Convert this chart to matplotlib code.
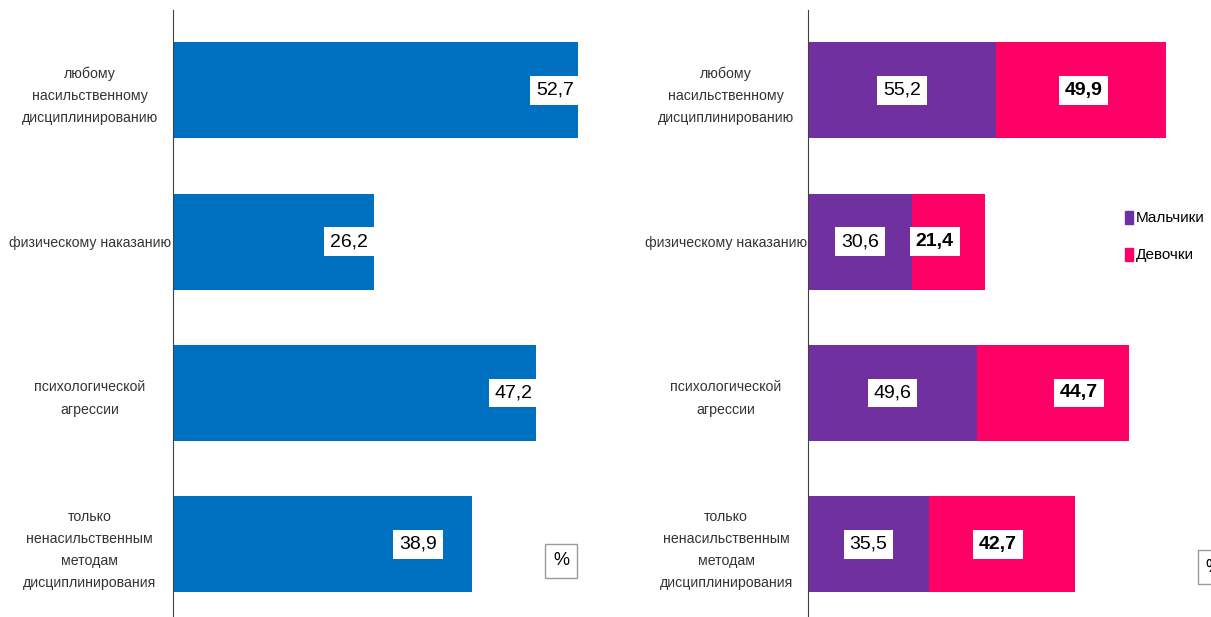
import matplotlib.pyplot as plt
from matplotlib.patches import Patch

categories = [
    "любому\nнасильственному\nдисциплинированию",
    "физическому наказанию",
    "психологической\nагрессии",
    "только\nненасильственным\nметодам\nдисциплинирования",
]
total = [52.7, 26.2, 47.2, 38.9]
boys = [55.2, 30.6, 49.6, 35.5]
girls = [49.9, 21.4, 44.7, 42.7]
series_names = ["Мальчики", "Девочки"]

# label nudges (data units), as placed in the original
total_label_shift = [3.0, 3.3, 2.9, 7.0]
girls_label_shift = [0.6, -4.1, 7.6, -1.2]

plt.rcParams["font.family"] = ["Liberation Sans Narrow", "Liberation Sans", "DejaVu Sans"]

BLUE = "#0070C0"
PURPLE = "#7030A0"
PINK = "#FF0066"
TXT = "#333333"

fig = plt.figure(figsize=(12.11, 6.17), dpi=100)
W, H = 1211, 617
ax1 = fig.add_axes([173 / W, 0, 461 / W, 607 / H])
ax2 = fig.add_axes([808 / W, 0, 375 / W, 607 / H])

y = list(range(len(categories)))
box = dict(boxstyle="square,pad=0.3", fc="white", ec="none")


def fmt(v):
    return f"{v:.1f}".replace(".", ",")


ax1.barh(y, total, height=0.635, color=BLUE)
for i, v in enumerate(total):
    ax1.text(v - total_label_shift[i], i, fmt(v),
             ha="center", va="center", fontsize=14, color="black", bbox=box)
ax1.set_xlim(0, 60)
ax1.text(50.5, 3.11, "%", ha="center", va="center", fontsize=13,
         bbox=dict(boxstyle="square,pad=0.45", fc="white", ec="#999999", lw=1))

ax2.barh(y, boys, height=0.635, color=PURPLE)
ax2.barh(y, girls, left=boys, height=0.635, color=PINK)
for i in y:
    ax2.text(boys[i] / 2, i, fmt(boys[i]),
             ha="center", va="center", fontsize=14, color="black", bbox=box)
    ax2.text(boys[i] + girls[i] / 2 + girls_label_shift[i], i, fmt(girls[i]),
             ha="center", va="center", fontsize=14, fontweight="bold",
             color="black", bbox=box)
ax2.set_xlim(0, 110)
ax2.text(119, 3.15, "%", ha="center", va="center", fontsize=13, clip_on=False,
         bbox=dict(boxstyle="square,pad=0.45", fc="white", ec="#999999", lw=1))

for ax in (ax1, ax2):
    ax.set_ylim(3.48, -0.53)
    ax.set_yticks(y)
    ax.set_yticklabels(categories, fontsize=10.2, color=TXT,
                       ha="center", linespacing=1.75)
    ax.set_xticks([])
    for s in ("top", "right", "bottom"):
        ax.spines[s].set_visible(False)
    ax.spines["left"].set_color("#404040")
    ax.tick_params(axis="y", length=0)

ax1.tick_params(axis="y", pad=60)
ax2.tick_params(axis="y", pad=59)

handles = [Patch(color=PURPLE), Patch(color=PINK)]
fig.legend(handles, series_names, loc="upper left",
           bbox_to_anchor=(1117 / W, 1 - 203 / H),
           frameon=False, fontsize=11, handlelength=0.55, handleheight=0.95,
           handletextpad=0.2, labelspacing=1.45, borderpad=0)

fig.savefig("out.png", dpi=100)
